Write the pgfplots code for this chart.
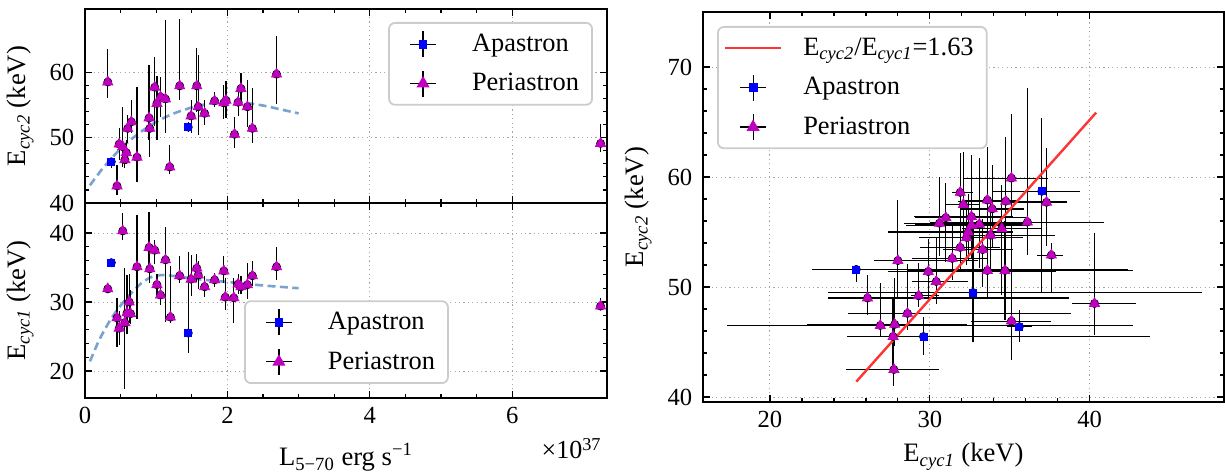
\documentclass[border=0pt]{standalone}
\usepackage{fontspec}
\setmainfont{Liberation Serif}
\usepackage{pgfplots}
\pgfplotsset{compat=1.18}
\usepackage{pgfplotstable}

\definecolor{mag}{rgb}{0.75,0,0.75}
\definecolor{fitblue}{rgb}{0.47,0.64,0.82}
\definecolor{fitred}{rgb}{1,0.2,0.2}

\newcommand{\tickfont}{\fontsize{12.3}{14}\selectfont}
\newcommand{\labfont}{\fontsize{13.3}{16}\selectfont}
\newcommand{\legfont}{\fontsize{13.2}{15}\selectfont}
\newcommand{\cyc}[1]{E\textsubscript{\textit{cyc#1}}}

% E_cyc2 vs luminosity (units of 1e37)
\pgfplotstableread{
x y ym yp
0.32 58.5 2.5 5.0
0.45 42.6 1.4 3.2
0.48 49.0 2.4 2.4
0.53 48.6 3.1 6.1
0.56 46.6 1.2 2.0
0.58 47.7 1.8 2.0
0.60 51.4 2.3 2.0
0.65 52.4 1.7 3.3
0.73 47.0 3.8 10.7
0.90 53.0 3.4 8.1
0.91 51.4 4.4 2.0
0.98 57.7 6.0 4.6
1.01 55.2 5.5 4.2
1.06 56.2 3.0 3.0
1.13 55.9 5.2 12.1
1.19 45.5 1.0 3.4
1.33 57.9 2.2 10.3
1.49 53.3 2.6 2.4
1.57 57.9 4.0 5.8
1.59 54.7 4.3 7.9
1.68 53.7 1.8 2.0
1.82 55.6 1.0 1.3
1.95 55.3 2.4 2.7
1.98 55.7 2.7 2.9
2.10 50.5 2.1 2.6
2.15 55.4 2.1 2.6
2.19 57.5 2.1 2.4
2.28 54.7 3.1 4.1
2.35 51.4 2.2 6.2
2.69 59.7 4.6 5.9
7.24 49.1 1.3 3.0
}\topPeri
\pgfplotstableread{
x y ym yp
0.37 46.3 1.0 0.5
1.45 51.6 0.7 0.8
}\topApa
\pgfplotstableread{
x y
0.07 42.7
0.25 45.3
0.50 48.3
0.75 50.6
1.00 52.4
1.25 53.7
1.50 54.6
1.75 55.2
2.00 55.4
2.25 55.3
2.50 54.9
2.75 54.3
3.00 53.7
}\topFit

% E_cyc1 vs luminosity
\pgfplotstableread{
x y ym yp
0.32 31.9 0.5 0.5
0.45 27.7 4.2 2.9
0.48 26.2 2.5 2.5
0.53 40.3 1.3 2.6
0.56 27.0 9.6 7.9
0.59 28.4 3.0 5.5
0.62 30.0 3.0 4.0
0.64 28.3 1.5 3.5
0.73 35.1 7.5 7.5
0.90 37.9 3.4 5.1
0.91 34.8 2.0 2.0
0.98 37.5 2.0 1.5
1.01 32.5 1.5 1.5
1.06 31.0 1.5 1.5
1.13 36.1 9.0 4.8
1.20 27.8 0.8 7.4
1.33 33.8 1.0 2.8
1.49 33.3 2.5 3.5
1.57 34.9 2.0 2.1
1.59 33.9 2.0 2.0
1.68 32.2 1.5 1.5
1.82 33.2 1.0 1.0
1.95 34.5 1.7 2.1
1.97 30.7 1.8 2.8
2.09 30.6 3.7 2.9
2.15 32.6 1.5 1.5
2.19 32.2 1.0 1.5
2.28 32.5 2.1 3.2
2.35 33.8 1.5 2.1
2.69 35.1 1.9 2.9
7.24 29.4 0.5 1.2
}\botPeri
\pgfplotstableread{
x y ym yp
0.37 35.7 0.5 0.4
1.45 25.5 2.9 11.7
}\botApa
\pgfplotstableread{
x y
0.07 21.4
0.20 24.5
0.35 27.3
0.50 29.5
0.65 31.3
0.80 32.8
0.95 33.7
1.10 33.9
1.30 33.7
1.60 33.3
2.00 32.9
2.50 32.4
3.00 32.0
}\botFit

% E_cyc2 vs E_cyc1
\pgfplotstableread{
x y xm xp ym yp
35.1 59.9 3.0 2.3 3.5 5.8
31.9 58.6 0.5 0.8 2.5 3.6
32.1 57.5 1.1 1.0 3.0 4.8
31.0 56.3 1.9 5.0 4.0 3.2
30.6 55.8 2.2 5.5 3.0 4.2
32.6 56.4 3.6 2.6 3.5 5.6
32.6 55.6 4.1 3.5 3.0 6.4
33.6 57.9 1.5 2.0 4.0 4.8
34.75 57.8 3.0 3.8 6.0 5.8
33.9 57.1 2.0 2.0 3.5 4.0
37.3 57.7 2.5 1.3 4.0 4.9
33.1 55.7 4.0 3.0 4.0 6.0
36.1 55.9 6.1 4.8 3.0 12.2
34.5 55.3 2.5 2.5 6.0 4.0
33.8 54.7 1.5 4.0 3.5 3.0
32.4 55.0 5.0 2.8 2.5 3.5
32.3 54.5 3.0 3.5 2.5 3.0
31.9 53.6 2.5 2.5 2.0 3.5
31.4 52.6 2.5 2.2 2.0 3.0
33.3 53.4 2.5 1.9 3.4 2.8
33.6 51.5 2.0 2.5 2.4 3.0
34.7 51.5 6.1 8.0 4.5 4.5
37.6 52.9 0.9 0.7 3.4 1.1
28.0 52.4 1.5 5.0 3.5 5.5
29.9 51.4 2.5 8.0 2.8 3.0
30.4 50.5 1.5 2.0 2.0 4.0
26.1 49.0 2.5 12.6 1.5 2.1
29.3 49.2 0.5 1.3 1.0 3.0
28.6 47.6 3.7 10.2 1.5 4.5
26.9 46.5 9.6 15.8 1.0 3.9
27.8 46.6 5.5 4.5 2.0 4.2
27.7 45.5 2.9 3.0 3.0 3.5
27.75 42.5 3.0 2.85 1.5 2.0
35.1 46.9 2.5 2.5 3.5 9.0
40.3 48.5 1.4 2.6 2.9 6.4
}\rightPeri
\pgfplotstableread{
x y xm xp ym yp
25.4 51.6 2.8 17.0 1.1 0.3
29.6 45.5 4.8 14.2 1.7 1.8
32.7 49.5 9.1 14.3 4.5 6.1
35.6 46.4 0.8 0.8 1.4 1.5
37.0 58.7 3.1 2.4 9.2 6.7
}\rightApa

\pgfplotsset{
  panel/.style={
    scale only axis, anchor=south west,
    tick align=inside,
    major tick length=3.5pt, minor tick length=2pt,
    every tick/.style={black, line width=0.6pt},
    axis line style={line width=0.7pt},
    grid=major,
    grid style={gray!70, line width=0.5pt, dash pattern=on 0.6pt off 1.6pt},
    tick label style={font=\tickfont},
    /pgf/number format/assume math mode=true,
    xticklabel style={yshift=-0.9pt},
    yticklabel style={xshift=-1.9pt},
    every axis y label/.style={at={([xshift=-25.5pt]axis description cs:0,0.5)}, rotate=90, anchor=south, inner sep=0pt, font=\labfont},
    legend cell align=left,
    legend style={font=\legfont, draw=black!20, line width=0.9pt, rounded corners=3pt,
      fill=white, inner xsep=3pt, inner ysep=2pt, nodes={inner sep=3.5pt}, row sep=2.5pt,
      column sep=7pt},
  },
  errleg/.style={legend image code/.code={%
    \path[draw=none, fill=none] (0pt,-1pt) rectangle (28pt,1pt);
    \draw[black, line width=0.6pt, solid] (7.5pt,0pt) -- (20.5pt,0pt) (14pt,-6.5pt) -- (14pt,6.5pt);
    \draw[only marks, mark repeat=2, mark phase=2] plot coordinates {(0pt,0pt) (14pt,0pt) (28pt,0pt)};
  }},
  lineleg/.style={legend image code/.code={%
    \draw[line width=1.2pt] (0pt,0pt) -- (28pt,0pt);
  }},
  bars/.style={forget plot, only marks, mark=none,
    error bars/.cd, y dir=both, y explicit,
    error bar style={black, line width=0.6pt, solid}, error mark=none},
  xybars/.style={forget plot, only marks, mark=none,
    error bars/.cd, x dir=both, x explicit, y dir=both, y explicit,
    error bar style={black, line width=0.6pt, solid}, error mark=none},
  apamk/.style={mark=square*, mark size=1.75pt, blue, mark options={draw=none}},
  perimk/.style={mark=triangle*, mark size=2.9pt, mag, mark options={draw=none}},
  apa/.style={forget plot, only marks, apamk},
  peri/.style={forget plot, only marks, perimk},
}

\begin{document}
\begin{tikzpicture}
\useasboundingbox (0pt,0pt) rectangle (612.5pt,237.5pt);

% upper left: E_cyc2
\begin{axis}[panel, at={(42.5pt,136pt)}, width=261pt, height=97pt,
  xmin=0, xmax=7.33, ymin=40, ymax=69.66,
  xtick={0,2,4,6}, minor x tick num=3, xticklabels={},
  ytick={40,50,60}, minor y tick num=4,
  ylabel={\cyc{2} (keV)},
  legend style={at={(axis description cs:1,1)}, anchor=north east, xshift=-7pt, yshift=-6.5pt}]
  \addlegendimage{errleg, apamk}
  \addlegendentry{Apastron}
  \addlegendimage{errleg, perimk}
  \addlegendentry{Periastron}
  \addplot[forget plot, fitblue, line width=1.3pt, dash pattern=on 4pt off 2.2pt, smooth] table[x=x, y=y] {\topFit};
  \addplot[bars] table[x=x, y=y, y error plus=yp, y error minus=ym] {\topApa};
  \addplot[bars] table[x=x, y=y, y error plus=yp, y error minus=ym] {\topPeri};
  \addplot[apa] table[x=x, y=y] {\topApa};
  \addplot[peri] table[x=x, y=y] {\topPeri};
\end{axis}

% lower left: E_cyc1
\begin{axis}[panel, name=bl, at={(42.5pt,38.5pt)}, width=261pt, height=97.5pt,
  xmin=0, xmax=7.33, ymin=16.09, ymax=44.35,
  xtick={0,2,4,6}, minor x tick num=3,
  ytick={20,30,40}, minor y tick num=4,
  ylabel={\cyc{1} (keV)},
  xlabel={L\textsubscript{5−70} erg s\textsuperscript{−1}},
  every axis x label/.style={at={([yshift=-34pt]axis description cs:0.5,0)}, anchor=base, font=\labfont},
  legend style={at={(axis description cs:0,0)}, anchor=south west, xshift=79.5pt, yshift=7pt}]
  \addlegendimage{errleg, apamk}
  \addlegendentry{Apastron}
  \addlegendimage{errleg, perimk}
  \addlegendentry{Periastron}
  \addplot[forget plot, fitblue, line width=1.3pt, dash pattern=on 4pt off 2.2pt, smooth] table[x=x, y=y] {\botFit};
  \addplot[bars] table[x=x, y=y, y error plus=yp, y error minus=ym] {\botApa};
  \addplot[bars] table[x=x, y=y, y error plus=yp, y error minus=ym] {\botPeri};
  \addplot[apa] table[x=x, y=y] {\botApa};
  \addplot[peri] table[x=x, y=y] {\botPeri};
\end{axis}
\node[anchor=base east, inner sep=0pt, font=\fontsize{13}{15}\selectfont] at ([xshift=-2.5pt, yshift=-30.5pt]bl.south east) {×10\textsuperscript{37}};

% right: E_cyc2 vs E_cyc1
\begin{axis}[panel, at={(351.5pt,36.5pt)}, width=260.5pt, height=195pt,
  xmin=15.81, xmax=48.4, ymin=39.55, ymax=75,
  xtick={20,30,40}, minor x tick num=4,
  ytick={40,50,60,70}, minor y tick num=4,
  xlabel={\cyc{1} (keV)}, ylabel={\cyc{2} (keV)},
  every axis x label/.style={at={([yshift=-30pt]axis description cs:0.5,0)}, anchor=base, font=\labfont},
  legend style={at={(axis description cs:0,1)}, anchor=north west, xshift=7pt, yshift=-7pt}]
  \addlegendimage{lineleg, fitred}
  \addlegendentry{\cyc{2}/\cyc{1}=1.63}
  \addlegendimage{errleg, apamk}
  \addlegendentry{Apastron}
  \addlegendimage{errleg, perimk}
  \addlegendentry{Periastron}
  \addplot[xybars] table[x=x, y=y, x error plus=xp, x error minus=xm, y error plus=yp, y error minus=ym] {\rightApa};
  \addplot[xybars] table[x=x, y=y, x error plus=xp, x error minus=xm, y error plus=yp, y error minus=ym] {\rightPeri};
  \addplot[forget plot, fitred, line width=1.2pt] coordinates {(25.4,41.40) (40.4,65.85)};
  \addplot[apa] table[x=x, y=y] {\rightApa};
  \addplot[peri] table[x=x, y=y] {\rightPeri};
\end{axis}
\end{tikzpicture}
\end{document}
